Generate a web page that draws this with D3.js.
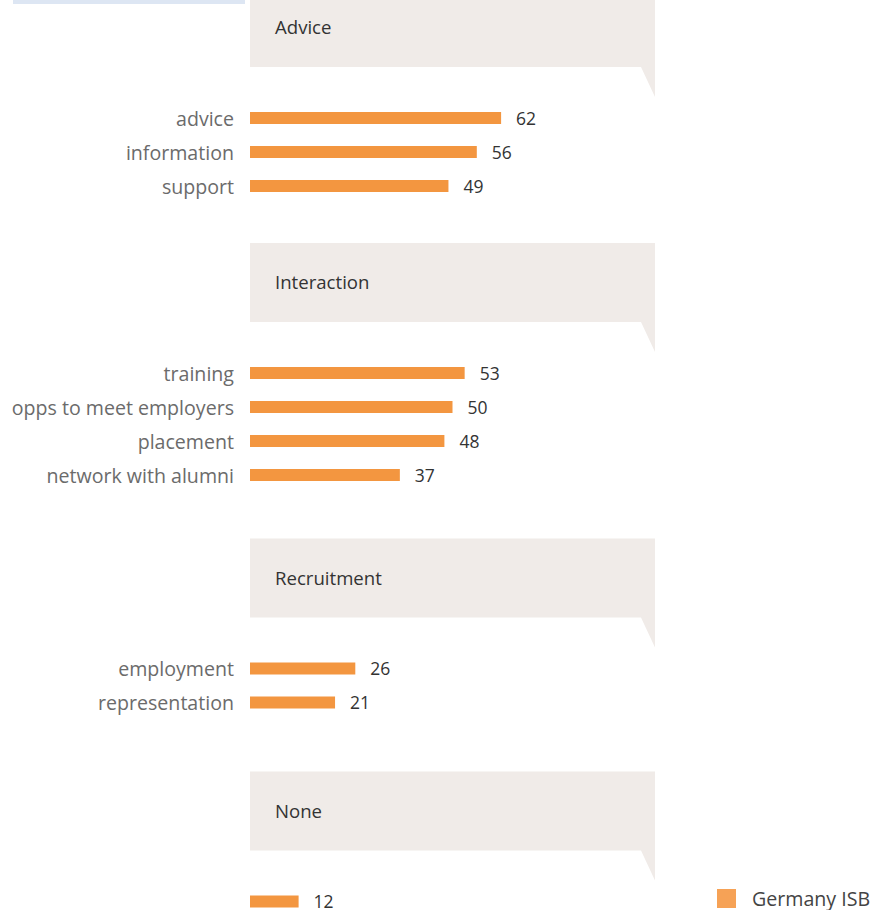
<!DOCTYPE html>
<html>
<head>
<meta charset="utf-8">
<script src="https://cdn.jsdelivr.net/npm/d3@7"></script>
<style>
  html, body { margin: 0; padding: 0; background: #fff; }
  svg { display: block; }
</style>
</head>
<body>
<svg id="chart" width="873" height="910"></svg>
<script>
// Share of respondents (%) per service, grouped by theme
const groups = ["Advice", "Interaction", "Recruitment", "None"];
const adviceLabels = ["advice", "information", "support"];
const adviceValues = [62, 56, 49];
const interactionLabels = ["training", "opps to meet employers", "placement", "network with alumni"];
const interactionValues = [53, 50, 48, 37];
const recruitmentLabels = ["employment", "representation"];
const recruitmentValues = [26, 21];
const noneLabels = [""];
const noneValues = [12];
const seriesName = "Germany ISB";

const sections = [
  { title: groups[0], labels: adviceLabels, values: adviceValues },
  { title: groups[1], labels: interactionLabels, values: interactionValues },
  { title: groups[2], labels: recruitmentLabels, values: recruitmentValues },
  { title: groups[3], labels: noneLabels, values: noneValues }
];

const font = "'Open Sans', 'Noto Sans', sans-serif";
const barColor = "#f39640";
const panelColor = "#f0ebe8";

const svg = d3.select("#chart");
const x = d3.scaleLinear().domain([0, 100]).range([250, 655]);

// vertical layout: header band, then rows 34px apart
const rowStep = 34;
const headerToRow = 90.5;
const headerCenters = [27.5, 282.5, 578, 811];
const panelH = 79;

// thin accent strip at top-left
svg.append("rect").attr("x", 13).attr("y", 0).attr("width", 232).attr("height", 4).attr("fill", "#dde6f3");

sections.forEach((s, i) => {
  const hc = headerCenters[i];
  const top = hc - panelH / 2, bot = hc + panelH / 2;
  const x0 = x(0), x1 = x(100);
  // speech-bubble style panel
  svg.append("path")
    .attr("d", `M${x0},${top} L${x1},${top} L${x1},${bot + 30} L${x1 - 14},${bot} L${x0},${bot} Z`)
    .attr("fill", panelColor);
  svg.append("text")
    .attr("x", 275).attr("y", hc).attr("dy", "0.35em")
    .attr("font-family", font).attr("font-size", 18.6).attr("fill", "#333")
    .text(s.title);

  const y = d3.scaleLinear().domain([0, 1]).range([hc + headerToRow, hc + headerToRow + rowStep]);
  const g = svg.append("g");
  const rows = g.selectAll("g").data(s.values.map((v, j) => ({ v, label: s.labels[j], j }))).join("g");
  rows.append("rect")
    .attr("x", x(0)).attr("y", d => y(d.j) - 6)
    .attr("width", d => x(d.v) - x(0)).attr("height", 12)
    .attr("fill", barColor);
  rows.append("text")
    .attr("x", d => x(d.v) + 15).attr("y", d => y(d.j) + 1).attr("dy", "0.34em")
    .attr("font-family", font).attr("font-size", 17.5).attr("fill", "#333")
    .text(d => d.v);
  rows.append("text")
    .attr("x", 234).attr("y", d => y(d.j) + 1).attr("dy", "0.34em")
    .attr("text-anchor", "end")
    .attr("font-family", font).attr("font-size", 19.6).attr("fill", "#6b6b6b")
    .text(d => d.label);
});

// legend
const lg = svg.append("g").attr("transform", "translate(717,889)");
lg.append("rect").attr("width", 19).attr("height", 19).attr("fill", "#f6a256");
lg.append("text").attr("x", 35).attr("y", 10).attr("dy", "0.34em")
  .attr("font-family", font).attr("font-size", 19.6).attr("fill", "#444")
  .text(seriesName);
</script>
</body>
</html>
